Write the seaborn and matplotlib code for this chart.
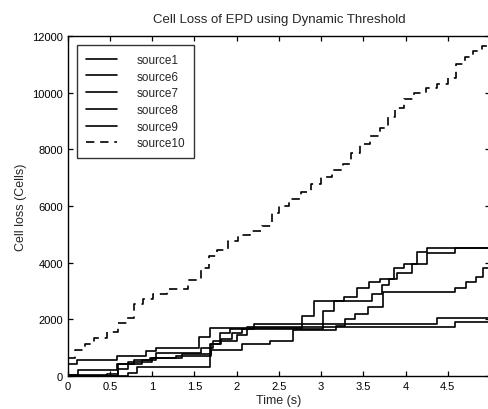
import matplotlib
matplotlib.use("Agg")
import matplotlib.pyplot as plt
import seaborn as sns
import pandas as pd

# Cumulative cell loss per source (step changes: time in s, loss in cells)
t_source1 = [0, 0.11, 0.58, 0.93, 1.04, 1.55, 1.68, 2.78, 2.92, 3.27, 3.43, 3.57, 3.70, 3.86, 3.98, 4.13, 4.25, 5.0]
v_source1 = [420, 570, 720, 870, 1000, 1380, 1680, 2120, 2660, 2790, 3110, 3310, 3420, 3810, 3950, 4370, 4520, 4520]

t_source6 = [0, 0.46, 0.60, 0.72, 1.00, 1.28, 1.70, 1.82, 1.95, 2.06, 3.02, 3.15, 3.60, 3.72, 3.80, 3.90, 4.08, 4.25, 4.58, 5.0]
v_source6 = [30, 60, 260, 480, 620, 720, 1130, 1300, 1500, 1660, 2310, 2640, 2900, 3200, 3430, 3650, 3950, 4340, 4520, 4520]

t_source7 = [0, 0.12, 0.58, 0.78, 0.98, 1.35, 1.70, 2.06, 2.39, 2.67, 3.18, 3.28, 3.40, 3.55, 3.73, 4.58, 4.72, 4.84, 4.92, 5.0]
v_source7 = [30, 210, 430, 560, 640, 780, 900, 1130, 1250, 1630, 1780, 2000, 2200, 2430, 2950, 3100, 3310, 3500, 3800, 3800]

t_source8 = [0, 0.72, 0.82, 1.68, 1.80, 1.92, 2.20, 4.37, 5.0]
v_source8 = [0, 120, 330, 1130, 1500, 1650, 1840, 2040, 2040]

t_source9 = [0, 0.60, 0.88, 1.05, 1.58, 1.72, 2.00, 2.12, 4.58, 5.0]
v_source9 = [0, 440, 560, 800, 1000, 1250, 1450, 1730, 1900, 1900]

t_source10 = [0, 0.09, 0.20, 0.31, 0.46, 0.60, 0.70, 0.79, 0.89, 1.01, 1.17, 1.42, 1.58, 1.67,
              1.77, 1.90, 2.02, 2.16, 2.30, 2.42, 2.50, 2.62, 2.76, 2.88, 3.00, 3.13, 3.26, 3.36,
              3.46, 3.58, 3.70, 3.79, 3.88, 3.98, 4.10, 4.24, 4.37, 4.50, 4.60, 4.70, 4.80, 4.90, 5.0]
v_source10 = [650, 900, 1130, 1340, 1550, 1870, 2050, 2540, 2720, 2890, 3070, 3390, 3810, 4240,
              4450, 4770, 4980, 5120, 5300, 5750, 6000, 6250, 6500, 6780, 7030, 7270, 7480, 7870,
              8190, 8470, 8750, 9140, 9460, 9780, 9990, 10170, 10310, 10520, 11010, 11260, 11470, 11650, 11650]

sources = ["source1", "source6", "source7", "source8", "source9", "source10"]
series_t = [t_source1, t_source6, t_source7, t_source8, t_source9, t_source10]
series_v = [v_source1, v_source6, v_source7, v_source8, v_source9, v_source10]

x_ticks = [0, 0.5, 1, 1.5, 2, 2.5, 3, 3.5, 4, 4.5]
x_tick_labels = ["0", "0.5", "1", "1.5", "2", "2.5", "3", "3.5", "4", "4.5"]
y_ticks = [0, 2000, 4000, 6000, 8000, 10000, 12000]

frames = []
for name, ts, vs in zip(sources, series_t, series_v):
    frames.append(pd.DataFrame({"time": ts, "loss": vs, "source": name}))
df = pd.concat(frames, ignore_index=True)

sns.set_theme(style="ticks")
plt.rcParams["font.family"] = ["Liberation Sans", "DejaVu Sans"]
plt.rcParams["xtick.direction"] = "in"
plt.rcParams["ytick.direction"] = "in"

fig = plt.figure(figsize=(4.88, 4.10), dpi=100)
ax = fig.add_axes([0.1387, 0.0805, 0.8654, 0.8293])

dash_map = {s: "" for s in sources}
dash_map["source10"] = (5, 3.5)

sns.lineplot(data=df, x="time", y="loss", hue="source", style="source",
             hue_order=sources, style_order=sources,
             palette=["black"] * len(sources), dashes=dash_map,
             drawstyle="steps-post", estimator=None, sort=False,
             linewidth=1.2, legend=False, ax=ax)

ax.set_xlim(0, 5)
ax.set_ylim(0, 12000)
ax.set_xticks(x_ticks)
ax.set_xticklabels(x_tick_labels)
ax.set_yticks(y_ticks)
ax.tick_params(axis="both", which="both", direction="in", length=3.5, width=0.9,
               top=True, right=True, labelsize=8, pad=3.5, colors="black")
for sp in ax.spines.values():
    sp.set_visible(True)
    sp.set_color("black")
    sp.set_linewidth(1.0)

ax.set_title("Cell Loss of EPD using Dynamic Threshold", fontsize=9.5, pad=10)
ax.set_xlabel("Time (s)", fontsize=9, labelpad=2)
ax.set_ylabel("Cell loss (Cells)", fontsize=9, labelpad=3.5)

leg = ax.legend(ax.lines[:len(sources)], sources, loc="upper left",
                bbox_to_anchor=(0.022, 0.9735), borderaxespad=0, fontsize=8.5,
                frameon=True, fancybox=False, edgecolor="black", handlelength=2.6,
                handletextpad=1.7, borderpad=0.75, labelspacing=0.4)
leg.get_frame().set_linewidth(1.0)

fig.savefig("out.png", dpi=100)
